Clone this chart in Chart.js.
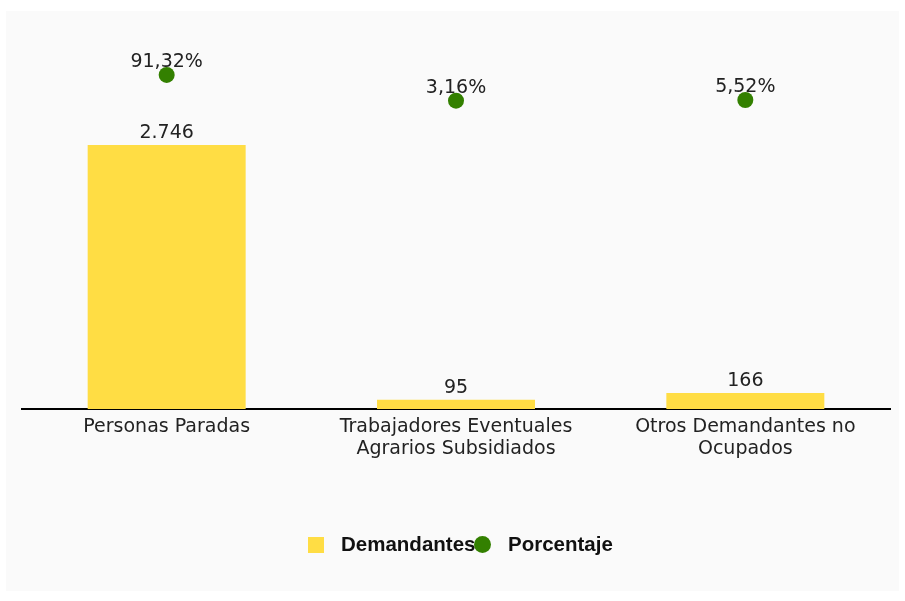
<!DOCTYPE html>
<html>
<head>
<meta charset="utf-8">
<script src="https://cdn.jsdelivr.net/npm/chart.js@4/dist/chart.umd.min.js"></script>
<style>
html,body{margin:0;padding:0;background:#ffffff;}
#wrap{width:905px;height:601px;position:relative;}
</style>
</head>
<body>
<div id="wrap"><canvas id="c"></canvas></div>
<script>
const categories = [
  ['Personas Paradas'],
  ['Trabajadores Eventuales', 'Agrarios Subsidiados'],
  ['Otros Demandantes no', 'Ocupados']
];
const demandantes = [2746, 95, 166];
const porcentaje = [91.32, 3.16, 5.52];
const seriesLabels = ['Demandantes', 'Porcentaje'];

const BAR_COLOR = '#FFDD44';
const DOT_COLOR = '#338000';
const FONT = '"DejaVu Sans", Verdana, sans-serif';

function fmtThousands(v) {
  const s = String(Math.round(v));
  return s.replace(/\B(?=(\d{3})+(?!\d))/g, '.');
}
const fmtPct = v => v.toFixed(2).replace('.', ',') + '%';

const bgPlugin = {
  id: 'bg',
  beforeDraw(chart) {
    const ctx = chart.ctx;
    ctx.save();
    ctx.fillStyle = '#ffffff';
    ctx.fillRect(0, 0, chart.width, chart.height);
    ctx.fillStyle = '#FAFAFA';
    ctx.fillRect(6, 11, chart.width - 12, chart.height - 21);
    ctx.restore();
  }
};

const labelPlugin = {
  id: 'vals',
  afterDatasetsDraw(chart) {
    const ctx = chart.ctx;
    ctx.save();
    ctx.fillStyle = '#222222';
    ctx.font = '19px ' + FONT;
    ctx.textAlign = 'center';
    ctx.textBaseline = 'alphabetic';
    const barMeta = chart.getDatasetMeta(0);
    barMeta.data.forEach((el, i) => {
      ctx.fillText(fmtThousands(demandantes[i]), el.x, el.y - 7);
    });
    const ptMeta = chart.getDatasetMeta(1);
    ptMeta.data.forEach((el, i) => {
      ctx.fillText(fmtPct(porcentaje[i]), el.x, el.y - 8);
    });
    ctx.restore();
  }
};

const legendPlugin = {
  id: 'customLegend',
  afterDraw(chart) {
    const ctx = chart.ctx;
    ctx.save();
    const cy = 544.5;
    const startX = 308;
    const itemW = 166;
    ctx.font = 'bold 20.5px "Liberation Sans", Arial, sans-serif';
    ctx.textBaseline = 'middle';
    ctx.textAlign = 'left';
    ctx.fillStyle = BAR_COLOR;
    ctx.fillRect(startX, cy - 7.5, 16, 16);
    ctx.fillStyle = '#111111';
    ctx.fillText(seriesLabels[0], startX + 33, cy + 1);
    const x2 = startX + itemW;
    ctx.fillText(seriesLabels[1], x2 + 34, cy + 1);
    ctx.fillStyle = DOT_COLOR;
    ctx.beginPath();
    ctx.arc(x2 + 8.5, cy, 8.5, 0, Math.PI * 2);
    ctx.fill();
    ctx.restore();
  }
};

new Chart(document.getElementById('c'), {
  type: 'bar',
  data: {
    labels: categories,
    datasets: [
      {
        type: 'bar',
        label: seriesLabels[0],
        data: demandantes,
        backgroundColor: BAR_COLOR,
        borderWidth: 0,
        categoryPercentage: 1.0,
        barPercentage: 0.546,
        yAxisID: 'y',
        order: 2
      },
      {
        type: 'line',
        label: seriesLabels[1],
        data: porcentaje,
        showLine: false,
        pointRadius: 8,
        pointHoverRadius: 8,
        pointBackgroundColor: DOT_COLOR,
        pointBorderColor: DOT_COLOR,
        pointBorderWidth: 0,
        yAxisID: 'y2',
        clip: false,
        order: 1
      }
    ]
  },
  options: {
    responsive: true,
    maintainAspectRatio: false,
    animation: false,
    devicePixelRatio: 1,
    layout: { padding: { left: 22, right: 15, top: 24.6, bottom: 132 } },
    plugins: {
      legend: { display: false },
      tooltip: { enabled: false },
      title: { display: false }
    },
    scales: {
      x: {
        grid: { display: false, drawTicks: false },
        border: { display: true, color: '#000000', width: 2 },
        ticks: {
          color: '#222222',
          font: { family: FONT, size: 19, lineHeight: 1.15 },
          padding: 7,
          maxRotation: 0,
          autoSkip: false
        },
        afterFit(scale) { scale.height = 60; }
      },
      y: {
        display: false,
        min: 0,
        max: 4000
      },
      y2: {
        display: false,
        position: 'right',
        min: -1054,
        max: 264
      }
    }
  },
  plugins: [bgPlugin, labelPlugin, legendPlugin]
});
</script>
</body>
</html>
